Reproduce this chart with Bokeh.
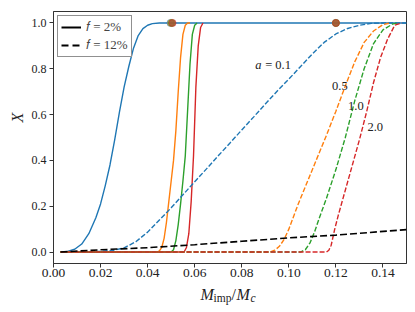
import math
from bokeh.plotting import figure
from bokeh.layouts import column, row
from bokeh.models import Range1d, FixedTicker, Label, Legend, LegendItem
from bokeh.core.properties import value
from bokeh.embed import file_html
from bokeh.resources import INLINE

# ---------------- data ----------------
colors = ["#1f77b4", "#ff7f0e", "#2ca02c", "#d62728"]

# f = 2 % (solid)
s01_x = [0.003, 0.006, 0.009, 0.012, 0.015, 0.018, 0.020, 0.022, 0.024, 0.026, 0.028, 0.030,
         0.032, 0.034, 0.036, 0.038, 0.040, 0.042, 0.045, 0.050, 0.150]
s01_y = [0.0, 0.003, 0.012, 0.035, 0.08, 0.15, 0.21, 0.29, 0.38, 0.49, 0.61, 0.72,
         0.81, 0.89, 0.945, 0.975, 0.99, 0.997, 1.0, 1.0, 1.0]
s05_x = [0.003, 0.044, 0.045, 0.046, 0.047, 0.048, 0.049, 0.050, 0.051, 0.052, 0.053, 0.054,
         0.055, 0.056, 0.057, 0.058]
s05_y = [0.0, 0.0, 0.005, 0.02, 0.06, 0.13, 0.22, 0.31, 0.40, 0.53, 0.70, 0.85,
         0.95, 0.99, 1.0, 1.0]
s10_x = [0.003, 0.050, 0.051, 0.052, 0.053, 0.054, 0.055, 0.056, 0.057, 0.058, 0.059, 0.060, 0.061]
s10_y = [0.0, 0.0, 0.01, 0.05, 0.12, 0.21, 0.31, 0.42, 0.62, 0.82, 0.95, 0.99, 1.0]
s20_x = [0.003, 0.0555, 0.0565, 0.0575, 0.0585, 0.0595, 0.0605, 0.0615, 0.0625, 0.0635]
s20_y = [0.0, 0.0, 0.02, 0.08, 0.22, 0.42, 0.72, 0.90, 0.98, 1.0]

# f = 12 % (dashed)
d01_x = [0.003, 0.010, 0.020, 0.025, 0.030, 0.035, 0.040, 0.045, 0.050, 0.055, 0.060, 0.065,
         0.070, 0.075, 0.080, 0.085, 0.090, 0.095, 0.100, 0.105, 0.110, 0.115, 0.120, 0.125,
         0.130, 0.135, 0.140, 0.150]
d01_y = [0.0, 0.001, 0.003, 0.007, 0.018, 0.045, 0.087, 0.14, 0.193, 0.25, 0.307, 0.363,
         0.42, 0.476, 0.533, 0.589, 0.646, 0.702, 0.755, 0.81, 0.865, 0.915, 0.952, 0.976,
         0.99, 0.998, 1.0, 1.0]
d05_x = [0.003, 0.092, 0.094, 0.096, 0.098, 0.100, 0.104, 0.108, 0.112, 0.116, 0.120, 0.124,
         0.128, 0.132, 0.136, 0.140, 0.143]
d05_y = [0.0, 0.0, 0.008, 0.025, 0.055, 0.10, 0.21, 0.31, 0.41, 0.51, 0.615, 0.725,
         0.83, 0.915, 0.965, 0.993, 1.0]
d10_x = [0.003, 0.105, 0.107, 0.109, 0.111, 0.113, 0.116, 0.120, 0.124, 0.128, 0.132, 0.136,
         0.140, 0.144, 0.146]
d10_y = [0.0, 0.0, 0.01, 0.04, 0.09, 0.15, 0.235, 0.36, 0.50, 0.66, 0.80, 0.91,
         0.97, 0.995, 1.0]
d20_x = [0.003, 0.116, 0.117, 0.118, 0.1195, 0.121, 0.124, 0.127, 0.130, 0.133, 0.136, 0.139,
         0.142, 0.145, 0.148]
d20_y = [0.0, 0.0, 0.008, 0.03, 0.10, 0.16, 0.27, 0.38, 0.49, 0.61, 0.74, 0.85,
         0.93, 0.99, 1.0]

# black dashed reference line
ref_x = [0.003, 0.02, 0.04, 0.06, 0.08, 0.10, 0.12, 0.15]
ref_y = [0.0, 0.010, 0.019, 0.032, 0.047, 0.062, 0.074, 0.098]

# markers
mark2_x = [0.0497, 0.0500, 0.0503, 0.0506]
mark2_y = [1.0, 1.0, 1.0, 1.0]
mark12_x = [0.1200, 0.1200, 0.1200, 0.1200]
mark12_y = [1.0, 1.0, 1.0, 1.0]

# curve annotations
anno_text = ["0.5", "1.0", "2.0"]
anno_x = [0.1217, 0.1285, 0.1367]
anno_y = [0.724, 0.639, 0.548]
a_label_x = 0.0857
a_label_y = 0.817

x_ticks = [0.00, 0.02, 0.04, 0.06, 0.08, 0.10, 0.12, 0.14]
x_tick_labels = ["0.00", "0.02", "0.04", "0.06", "0.08", "0.10", "0.12", "0.14"]
y_ticks = [0.0, 0.2, 0.4, 0.6, 0.8, 1.0]
y_tick_labels = ["0.0", "0.2", "0.4", "0.6", "0.8", "1.0"]

legend_labels = ["\U0001D453 = 2%", "\U0001D453 = 12%"]

SERIF = "'Liberation Serif', serif"
TXT = "#222222"

# ---------------- main figure ----------------
p = figure(frame_width=353, frame_height=252, output_backend="svg", toolbar_location=None,
           x_range=Range1d(0, 0.15), y_range=Range1d(-0.05, 1.05),
           min_border_left=23, min_border_right=9, min_border_top=11, min_border_bottom=20)
p.background_fill_color = "white"
p.border_fill_color = "white"
p.xgrid.grid_line_color = None
p.ygrid.grid_line_color = None
p.outline_line_color = "#333333"
p.outline_line_width = 1

for ax in (p.xaxis[0], p.yaxis[0]):
    ax.axis_line_color = "#333333"
    ax.major_tick_line_color = "#333333"
    ax.major_tick_out = 4
    ax.major_tick_in = 0
    ax.minor_tick_line_color = None
    ax.major_label_text_color = TXT
    ax.major_label_text_font = SERIF

p.xaxis[0].ticker = FixedTicker(ticks=x_ticks)
p.xaxis[0].major_label_overrides = {t: l for t, l in zip(x_ticks, x_tick_labels)}
p.xaxis[0].major_label_text_font_size = "13.5px"
p.xaxis[0].major_label_standoff = 1
p.yaxis[0].ticker = FixedTicker(ticks=y_ticks)
p.yaxis[0].major_label_overrides = {t: l for t, l in zip(y_ticks, y_tick_labels)}
p.yaxis[0].major_label_text_font_size = "12px"
p.yaxis[0].major_label_standoff = 3

# solid curves
for (xs, ys), c in zip([(s01_x, s01_y), (s05_x, s05_y), (s10_x, s10_y), (s20_x, s20_y)], colors):
    p.line(xs, ys, line_color=c, line_width=1.4)
# dashed curves
for (xs, ys), c in zip([(d01_x, d01_y), (d05_x, d05_y), (d10_x, d10_y), (d20_x, d20_y)], colors):
    p.line(xs, ys, line_color=c, line_width=1.4, line_dash="5 2")
p.line(ref_x, ref_y, line_color="black", line_width=1.6, line_dash="7 3")

# markers
p.scatter(mark2_x, mark2_y, size=7, color=colors, alpha=0.5)
p.scatter(mark12_x, mark12_y, size=7, color=colors, alpha=0.5)

# annotations
p.text(anno_x, anno_y, text=anno_text, text_font=value(SERIF), text_font_size="12.5px",
       text_align="center", text_baseline="middle", text_color=TXT)
p.add_layout(Label(x=a_label_x, y=a_label_y, text="a", text_font=SERIF, text_font_size="12.5px",
                   text_font_style="italic", text_align="left", text_baseline="middle",
                   text_color=TXT))
p.add_layout(Label(x=a_label_x, y=a_label_y, x_offset=10, text="= 0.1", text_font=SERIF,
                   text_font_size="12.5px", text_align="left", text_baseline="middle",
                   text_color=TXT))

# legend (placeholder renderers for handles)
nan = float("nan")
r_solid = p.line([nan], [nan], line_color="black", line_width=2)
r_dash = p.line([nan], [nan], line_color="black", line_width=2, line_dash="7 4")
legend = Legend(items=[LegendItem(label=legend_labels[0], renderers=[r_solid]),
                       LegendItem(label=legend_labels[1], renderers=[r_dash])],
                location="top_left", margin=4, padding=3, spacing=2,
                glyph_width=20, glyph_height=14, label_standoff=5,
                label_text_font=SERIF, label_text_font_size="13px",
                label_height=14, border_line_color="#222222", border_line_width=1,
                background_fill_color="white", background_fill_alpha=1.0)
p.add_layout(legend, "center")


def label_fig(w, h, transparent=False):
    f = figure(width=w, height=h, output_backend="svg", toolbar_location=None,
               x_axis_location=None, y_axis_location=None,
               x_range=Range1d(0, w), y_range=Range1d(0, h),
               min_border=0, outline_line_color=None)
    f.xgrid.grid_line_color = None
    f.ygrid.grid_line_color = None
    f.background_fill_color = "white"
    f.border_fill_color = "white"
    if transparent:
        f.background_fill_alpha = 0.0
        f.border_fill_alpha = 0.0
    return f


def put(f, txt, x, y, size, style="normal", angle=0.0, align="left", baseline="alphabetic"):
    f.add_layout(Label(x=x, y=y, x_units="screen", y_units="screen", text=txt,
                       text_font=SERIF, text_font_size=f"{size}px", text_font_style=style,
                       angle=angle, text_align=align, text_baseline=baseline, text_color=TXT))


# y axis label panel (left of main figure)
ylab = label_fig(28, 283)
put(ylab, "X", 17, 146, 16, style="italic", angle=math.pi / 2, align="center", baseline="middle")

# x axis label panel (below), pulled up a little so it sits closer to the tick labels
xlab = label_fig(413, 33, transparent=True)
xlab.styles = {"margin-top": "-6px"}
put(xlab, "M", 200, 16, 16, style="italic")
put(xlab, "imp", 213, 13, 11.5)
put(xlab, "/", 231, 16, 16)
put(xlab, "M", 236, 16, 16, style="italic")
put(xlab, "c", 250, 13, 11.5, style="italic")

layout = column(row(ylab, p, spacing=0), xlab, spacing=0)
open("out.html", "w").write(file_html(layout, INLINE))
